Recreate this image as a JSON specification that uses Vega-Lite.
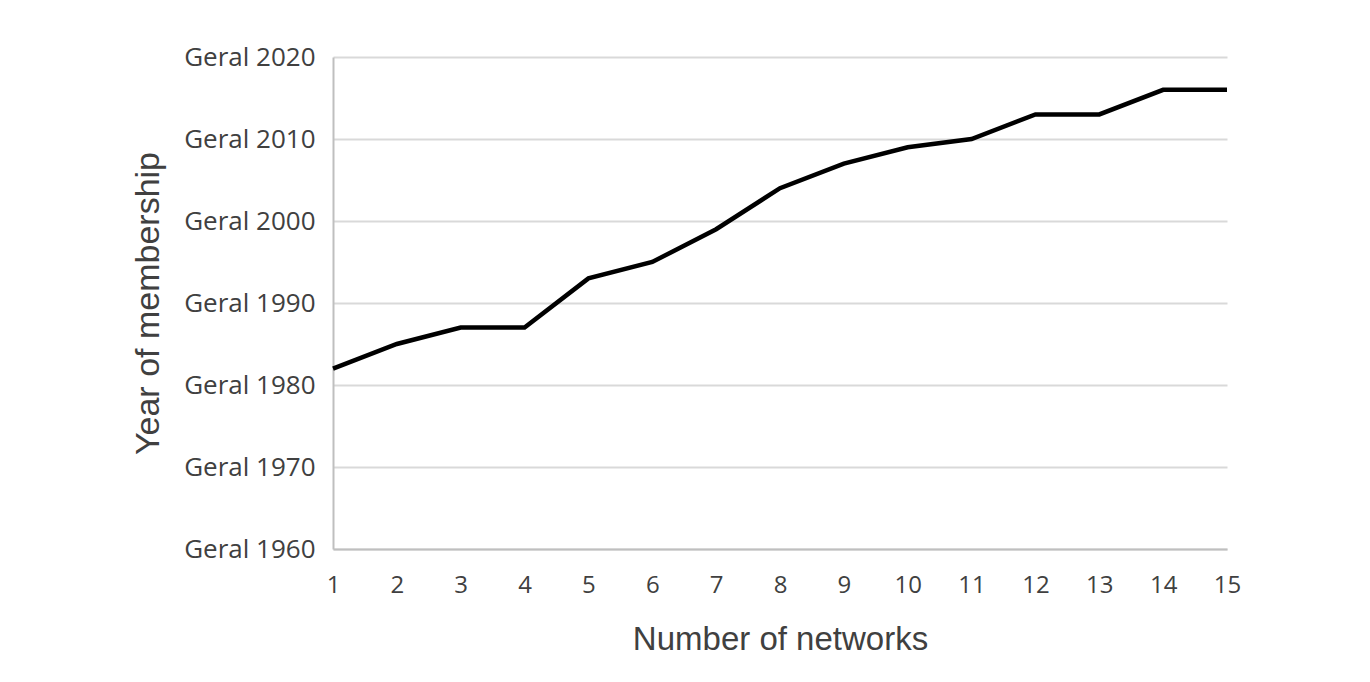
{
  "$schema": "https://vega.github.io/schema/vega-lite/v6.json",
  "width": 894,
  "height": 492,
  "autosize": "none",
  "padding": {"left": 333, "top": 57, "right": 143, "bottom": 133},
  "background": "white",
  "config": {"view": {"stroke": null}},
  "data": {"values": [
    {"n": 1, "year": 1982},
    {"n": 2, "year": 1985},
    {"n": 3, "year": 1987},
    {"n": 4, "year": 1987},
    {"n": 5, "year": 1993},
    {"n": 6, "year": 1995},
    {"n": 7, "year": 1999},
    {"n": 8, "year": 2004},
    {"n": 9, "year": 2007},
    {"n": 10, "year": 2009},
    {"n": 11, "year": 2010},
    {"n": 12, "year": 2013},
    {"n": 13, "year": 2013},
    {"n": 14, "year": 2016},
    {"n": 15, "year": 2016}
  ]},
  "mark": {"type": "line", "color": "black", "strokeWidth": 4.5, "strokeJoin": "miter"},
  "encoding": {
    "x": {
      "field": "n", "type": "quantitative",
      "scale": {"domain": [1, 15], "nice": false, "zero": false},
      "axis": {
        "values": [1,2,3,4,5,6,7,8,9,10,11,12,13,14,15],
        "title": "Number of networks",
        "titleFont": "Liberation Sans", "titleFontSize": 33, "titleFontWeight": "normal", "titleColor": "#404040",
        "titlePadding": 26,
        "labelFont": "Open Sans", "labelFontSize": 24, "labelColor": "#404040",
        "labelPadding": 24, "ticks": false, "grid": false,
        "domainColor": "#bfbfbf", "domainWidth": 2, "labelFlush": false
      }
    },
    "y": {
      "field": "year", "type": "quantitative",
      "scale": {"domain": [1960, 2020], "nice": false, "zero": false},
      "axis": {
        "values": [1960, 1970, 1980, 1990, 2000, 2010, 2020],
        "labelExpr": "'Geral ' + datum.value",
        "title": "Year of membership",
        "titleFont": "Liberation Sans", "titleFontSize": 34, "titleFontWeight": "normal", "titleColor": "#404040",
        "titlePadding": 18,
        "labelFont": "Open Sans", "labelFontSize": 26, "labelColor": "#404040",
        "labelPadding": 18, "ticks": false,
        "grid": true, "gridColor": "#d9d9d9", "gridWidth": 2,
        "domainColor": "#bfbfbf", "domainWidth": 2
      }
    }
  }
}
